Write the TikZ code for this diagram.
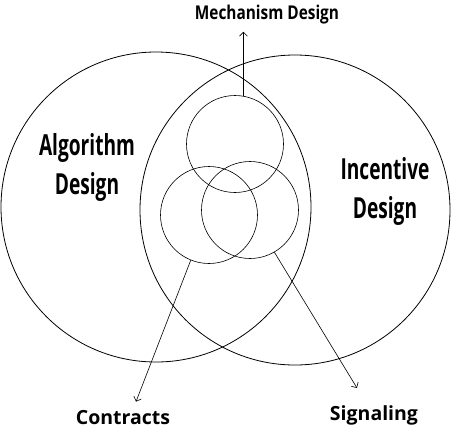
\documentclass[tikz,border=0pt]{standalone}
\usepackage{fontspec}
\newfontfamily\labelfont{Open Sans}[FakeStretch=0.66]
\newfontfamily\tagfont{Open Sans}[FakeStretch=0.81]
\newfontfamily\plainfont{Open Sans}
\usetikzlibrary{arrows.meta, positioning}

\begin{document}
\begin{tikzpicture}[
    x=1pt, y=-1pt,
    >={Straight Barb[length=4pt,width=8pt]},
    bigset/.style={circle, draw, line width=0.8pt, minimum size=310pt, inner sep=0pt},
    subset/.style={circle, draw, line width=0.6pt, minimum size=97pt, inner sep=0pt},
    area/.style={font=\labelfont\bfseries\fontsize{29}{39}\selectfont, align=center},
    tag/.style={font=\tagfont\bfseries\fontsize{19}{23}\selectfont, inner sep=1pt, anchor=base},
    wide tag/.style={tag, font=\plainfont\bfseries\fontsize{19.5}{23}\selectfont}
]
\useasboundingbox (0,0) rectangle (452,429);

% the two big sets
\node[bigset] (alg) at (156,207) {};
\node[bigset] (inc) at (295,210) {};

% the three small sets
\node[subset] (mech) at (235,144) {};
\node[subset] (contr) at (209,215) {};
\node[subset] (sig) at (250,210) {};

% labels
\node[area] (algtext) at (87,167) {Algorithm\\Design};
\node[area] (inctext) at (385,191) {Incentive\\Design};

\node[tag] (mechtag) at (267,19) {Mechanism Design};
\node[wide tag] (contrtag) at (123,424) {Contracts};
\node[wide tag] (sigtag) at (374,420) {Signaling};

% pointers
\draw[->, line width=0.6pt] (mech.80) -- ([yshift=-7pt]mech.80 |- mechtag.south);
\draw[->, line width=0.6pt] (contr.248) -- ([xshift=13pt,yshift=7pt]contrtag.north);
\draw[->, line width=0.6pt] (sig.300) -- ([xshift=-17pt,yshift=16pt]sigtag.north);

\end{tikzpicture}
\end{document}
